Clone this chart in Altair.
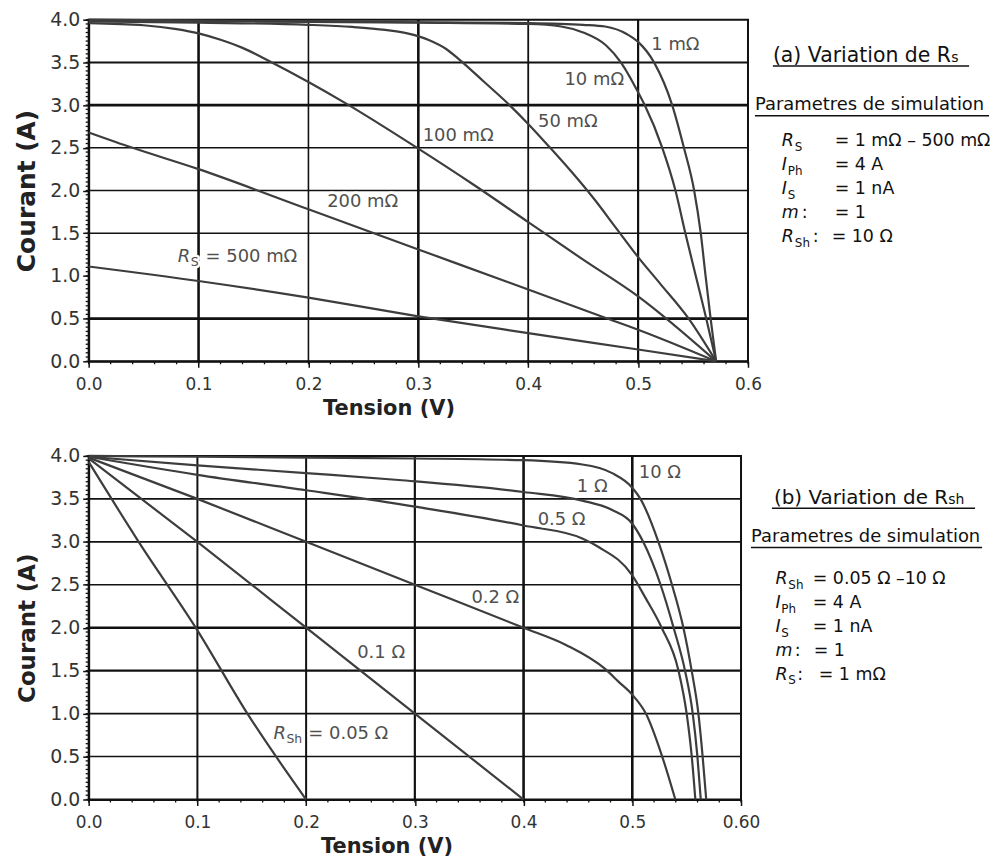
import altair as alt
import pandas as pd

FONT = "DejaVu Sans"
INK = "#111111"
CURVE = "#3d3d3d"
LABEL = "#505050"
TICKLBL = "#333333"

# ---------------- Panel (a): variation of Rs  (V in volts, I in amperes)
a_series = ["1 mΩ", "10 mΩ", "50 mΩ", "100 mΩ", "200 mΩ", "500 mΩ"]
a_v_1 = [0.0, 0.1, 0.2, 0.3, 0.4, 0.45, 0.47, 0.49, 0.5, 0.5145, 0.531, 0.5417, 0.551, 0.557, 0.5614, 0.566, 0.571]
a_i_1 = [4.0, 3.99, 3.98, 3.97, 3.96, 3.94, 3.92, 3.83, 3.74, 3.5, 3.0, 2.5, 2.0, 1.5, 1.0, 0.5, 0.0]
a_v_10 = [0.0, 0.1, 0.2, 0.3, 0.4, 0.43, 0.45, 0.4707, 0.4843, 0.5, 0.506, 0.522, 0.534, 0.543, 0.5525, 0.562, 0.571]
a_i_10 = [3.996, 3.985, 3.975, 3.965, 3.95, 3.92, 3.85, 3.70, 3.5, 3.15, 3.0, 2.5, 2.0, 1.5, 1.0, 0.5, 0.0]
a_v_50 = [0.0, 0.1, 0.2, 0.24, 0.27, 0.29, 0.31, 0.325, 0.3376, 0.36, 0.383, 0.4, 0.42, 0.44, 0.46, 0.48, 0.5,
          0.52, 0.546, 0.571]
a_i_50 = [3.98, 3.965, 3.94, 3.915, 3.88, 3.84, 3.76, 3.66, 3.53, 3.27, 3.0, 2.78, 2.50, 2.21, 1.90, 1.56, 1.22,
          0.91, 0.5, 0.0]
a_v_100 = [0.0, 0.05, 0.08, 0.1, 0.12, 0.14, 0.165, 0.2, 0.234, 0.3, 0.35, 0.4, 0.45, 0.5, 0.571]
a_i_100 = [3.96, 3.935, 3.89, 3.84, 3.765, 3.67, 3.51, 3.27, 3.02, 2.49, 2.07, 1.63, 1.19, 0.76, 0.0]
a_v_200 = [0.0, 0.04, 0.1, 0.2, 0.3, 0.4, 0.47, 0.5, 0.571]
a_i_200 = [2.68, 2.50, 2.25, 1.78, 1.31, 0.84, 0.51, 0.37, 0.0]
a_v_500 = [0.0, 0.1, 0.2, 0.3, 0.4, 0.5, 0.571]
a_i_500 = [1.11, 0.94, 0.745, 0.527, 0.33, 0.138, 0.0]

a_label_text = ["1 mΩ", "10 mΩ", "50 mΩ", "100 mΩ", "200 mΩ"]
a_label_v = [0.512, 0.433, 0.409, 0.304, 0.217]
a_label_i = [3.70, 3.29, 2.80, 2.64, 1.87]
a_rs_label_at = (0.081, 1.224)          # "R_S = 500 mΩ"

a_grid_v = [0.1, 0.2, 0.3, 0.4, 0.5]
a_grid_i = [0.5, 1.5, 2.0, 2.5, 3.0, 3.5]
a_grid_v_width = [2.6, 1.6, 2.6, 1.8, 2.2]
a_grid_i_width = [2.6, 1.6, 1.6, 1.6, 2.6, 2.0]

# ---------------- Panel (b): variation of Rsh
b_series = ["10 Ω", "1 Ω", "0.5 Ω", "0.2 Ω", "0.1 Ω", "0.05 Ω"]
b_v_10 = [0.0, 0.1, 0.2, 0.3, 0.4, 0.454, 0.4815, 0.5, 0.5075, 0.524, 0.5365, 0.547, 0.5546, 0.5608, 0.5647, 0.568]
b_i_10 = [4.0, 3.99, 3.98, 3.97, 3.95, 3.90, 3.80, 3.63, 3.5, 3.0, 2.5, 2.0, 1.5, 1.0, 0.5, 0.0]
b_v_1 = [0.0, 0.1, 0.2, 0.285, 0.4, 0.454, 0.4815, 0.5, 0.51, 0.526, 0.538, 0.5485, 0.5556, 0.5599, 0.563]
b_i_1 = [3.99, 3.89, 3.80, 3.72, 3.58, 3.48, 3.37, 3.21, 3.0, 2.5, 2.0, 1.5, 1.0, 0.5, 0.0]
b_v_05 = [0.0, 0.1, 0.2, 0.3, 0.4, 0.454, 0.469, 0.5, 0.512, 0.527, 0.5425, 0.55, 0.5547, 0.558]
b_i_05 = [3.99, 3.78, 3.6, 3.41, 3.19, 3.04, 2.94, 2.61, 2.35, 2.0, 1.5, 1.0, 0.5, 0.0]
b_v_02 = [0.0, 0.1, 0.2, 0.3, 0.4, 0.439, 0.475, 0.4875, 0.5, 0.5125, 0.5275, 0.5396]
b_i_02 = [3.98, 3.5, 3.0, 2.5, 2.0, 1.80, 1.52, 1.37, 1.22, 1.0, 0.5, 0.0]
b_v_01 = [0.0, 0.1, 0.2, 0.3, 0.4]
b_i_01 = [3.97, 3.0, 2.0, 1.0, 0.0]
b_v_005 = [0.0, 0.046, 0.1, 0.146, 0.2]
b_i_005 = [3.93, 3.0, 1.97, 1.0, 0.0]

b_label_text = ["10 Ω", "1 Ω", "0.5 Ω", "0.2 Ω", "0.1 Ω"]
b_label_v = [0.506, 0.449, 0.413, 0.352, 0.247]
b_label_i = [3.80, 3.635, 3.25, 2.34, 1.71]
b_rsh_label_at = (0.170, 0.76)          # "R_Sh = 0.05 Ω"

b_grid_v = [0.1, 0.2, 0.3, 0.4, 0.5]
b_grid_i = [0.5, 1.0, 1.5, 2.0, 2.5, 3.0, 3.5]
b_grid_v_width = [2.0, 2.0, 2.2, 2.6, 2.6]
b_grid_i_width = [1.6, 1.6, 2.4, 2.6, 1.6, 1.8, 1.8]

# axis ticks: labelled majors, unlabelled minors (every 0.02 V and 0.05 A)
x_major = [0.0, 0.1, 0.2, 0.3, 0.4, 0.5, 0.6]
y_major = [0.0, 0.5, 1.0, 1.5, 2.0, 2.5, 3.0, 3.5, 4.0]
x_minor = [k / 50 for k in range(31)]
y_minor = [k / 20 for k in range(81)]

ONE = pd.DataFrame({"k": [0]})


def frame(names, vs, is_):
    rows = []
    for n, v, i in zip(names, vs, is_):
        for a, b in zip(v, i):
            rows.append({"serie": n, "v": a, "i": b})
    return pd.DataFrame(rows)


def x_axis(last, title_x):
    return alt.Axis(
        values=x_major, title="Tension (V)", grid=False,
        labelExpr=f"datum.value > 0.59 ? '{last}' : format(datum.value, '.1f')",
        tickSize=6, tickWidth=1.5, tickColor=INK, domainColor=INK, domainWidth=2,
        labelFont=FONT, labelFontSize=17, labelColor=TICKLBL, labelPadding=9,
        labelFlush=False, labelOverlap=False,
        titleFont=FONT, titleFontSize=21, titleFontWeight="bold", titleColor="#222222",
        titlePadding=5, titleX=title_x, titleAlign="center",
    )


def y_axis(title_size):
    return alt.Axis(
        values=y_major, title="Courant (A)", grid=False, format=".1f",
        tickSize=6, tickWidth=1.5, tickColor=INK, domainColor=INK, domainWidth=2,
        labelFont=FONT, labelFontSize=19, labelColor=TICKLBL, labelPadding=3,
        labelOverlap=False,
        titleFont=FONT, titleFontSize=title_size, titleFontWeight="bold", titleColor="#222222",
        titlePadding=10,
    )


def txt_px(s, x, y, size, italic=False):
    return alt.Chart(ONE).mark_text(
        text=s, align="left", baseline="alphabetic", font=FONT, fontSize=size,
        fontStyle="italic" if italic else "normal", color=INK,
    ).encode(x=alt.value(x), y=alt.value(y))


def rule_px(x1, x2, y):
    return alt.Chart(ONE).mark_rule(color=INK, strokeWidth=1.6).encode(
        x=alt.value(x1), x2=alt.value(x2), y=alt.value(y))


def panel(names, vs, is_, grid, lab, special_pieces, special_at, notes, rules,
          last, title_x, ytitle, w, h):
    xs = alt.Scale(domain=[0, 0.6], nice=False, zero=False)
    ys = alt.Scale(domain=[0, 4], nice=False, zero=False)
    ax = x_axis(last, title_x)
    ay = y_axis(ytitle)

    def X():
        return alt.X("v:Q", scale=xs, axis=ax)

    def Y():
        return alt.Y("i:Q", scale=ys, axis=ay)

    grid_v, grid_i, grid_v_w, grid_i_w = grid
    curves = alt.Chart(frame(names, vs, is_)).mark_line(
        color=CURVE, strokeWidth=2.2, interpolate="monotone"
    ).encode(x=X(), y=Y(), detail="serie:N", order="v:Q")
    gv = alt.Chart(pd.DataFrame({"v": grid_v, "w": grid_v_w})).mark_rule(color=INK).encode(
        x=X(), strokeWidth=alt.StrokeWidth("w:Q", scale=None))
    gi = alt.Chart(pd.DataFrame({"i": grid_i, "w": grid_i_w})).mark_rule(color=INK).encode(
        y=Y(), strokeWidth=alt.StrokeWidth("w:Q", scale=None))
    mx = alt.Chart(pd.DataFrame({"v": x_minor})).mark_rule(color=INK, strokeWidth=1.3).encode(
        x=X(), y=alt.value(h), y2=alt.value(h + 3))
    my = alt.Chart(pd.DataFrame({"i": y_minor})).mark_rule(color=INK, strokeWidth=1.3).encode(
        y=Y(), x=alt.value(0), x2=alt.value(-3))
    layers = [gv, gi, curves, mx, my]

    texts, lv, li = lab
    src = pd.DataFrame({"t": texts, "v": lv, "i": li})
    sp = pd.DataFrame({"v": [special_at[0]], "i": [special_at[1]]})
    for halo in (True, False):
        extra = dict(stroke="white", strokeWidth=5, strokeJoin="round", color="white") if halo else dict(color=LABEL)
        layers.append(alt.Chart(src).mark_text(
            align="left", baseline="middle", font=FONT, fontSize=18, **extra
        ).encode(x=X(), y=Y(), text="t:N"))
        for s, dx, dy, size, italic in special_pieces:
            layers.append(alt.Chart(sp).mark_text(
                text=s, align="left", baseline="middle", dx=dx, dy=dy, font=FONT, fontSize=size,
                fontStyle="italic" if italic else "normal", **extra
            ).encode(x=X(), y=Y()))
    layers += [txt_px(*n) for n in notes]
    layers += [rule_px(*r) for r in rules]
    return alt.layer(*layers).properties(width=w, height=h)


# right-hand annotations, positions in pixels relative to the plot origin
a_notes = [
    ("(a) Variation de R", 687, 42, 20.5), ("s", 866, 42, 14),
    ("Parametres de simulation", 669, 91, 18),
    ("R", 696, 127, 17.5, True), ("S", 709, 132, 12), ("= 1 mΩ – 500 mΩ", 749, 127, 17.5),
    ("I", 696, 151, 17.5, True), ("Ph", 702, 156, 12), ("= 4 A", 749, 151, 17.5),
    ("I", 696, 175, 17.5, True), ("S", 702, 180, 12), ("= 1 nA", 749, 175, 17.5),
    ("m", 696, 199, 17.5, True), (":", 716, 199, 17.5), ("= 1", 749, 199, 17.5),
    ("R", 696, 223, 17.5, True), ("Sh", 709, 228, 12), (":", 727, 223, 17.5), ("= 10 Ω", 746, 223, 17.5),
]
a_rules = [(687, 884, 46.5), (669, 904, 96.5)]

b_notes = [
    ("(b) Variation de R", 688, 48, 20), ("sh", 863, 48, 14),
    ("Parametres de simulation", 665, 86, 18),
    ("R", 689.5, 128.5, 17.5, True), ("Sh", 702.5, 133.5, 12), ("= 0.05 Ω –10 Ω", 727, 128.5, 17.5),
    ("I", 689.5, 152.5, 17.5, True), ("Ph", 695.5, 157.5, 12), ("= 4 A", 727, 152.5, 17.5),
    ("I", 689.5, 176.5, 17.5, True), ("S", 695.5, 181.5, 12), ("= 1 nA", 727, 176.5, 17.5),
    ("m", 689.5, 200.5, 17.5, True), (":", 709, 200.5, 17.5), ("= 1", 728, 200.5, 17.5),
    ("R", 689.5, 224.5, 17.5, True), ("S", 702.5, 229.5, 12), (":", 711.5, 224.5, 17.5), ("= 1 mΩ", 733, 224.5, 17.5),
]
b_rules = [(686, 890, 52.5), (665, 897, 92)]

a_special = [("R", 0, 0, 18, True), ("S", 13, 5, 12.5, False), ("= 500 mΩ", 28, 0, 18, False)]
b_special = [("R", 0, 0, 18, True), ("Sh", 13, 5, 12.5, False), ("= 0.05 Ω", 35, 0, 18, False)]

top = panel(
    a_series, [a_v_1, a_v_10, a_v_50, a_v_100, a_v_200, a_v_500],
    [a_i_1, a_i_10, a_i_50, a_i_100, a_i_200, a_i_500],
    (a_grid_v, a_grid_i, a_grid_v_width, a_grid_i_width),
    (a_label_text, a_label_v, a_label_i), a_special, a_rs_label_at,
    a_notes, a_rules, "0.6", 301, 25, 662, 343,
)
bottom = panel(
    b_series, [b_v_10, b_v_1, b_v_05, b_v_02, b_v_01, b_v_005],
    [b_i_10, b_i_1, b_i_05, b_i_02, b_i_01, b_i_005],
    (b_grid_v, b_grid_i, b_grid_v_width, b_grid_i_width),
    (b_label_text, b_label_v, b_label_i), b_special, b_rsh_label_at,
    b_notes, b_rules, "0.60", 299, 23, 655, 345,
)

chart = alt.vconcat(top, bottom, spacing=27).properties(
    padding={"left": 5, "top": 0, "right": 0, "bottom": 5}
).configure_view(stroke=INK, strokeWidth=2)

chart.save("out.html", embed_options={"renderer": "svg", "actions": False})
